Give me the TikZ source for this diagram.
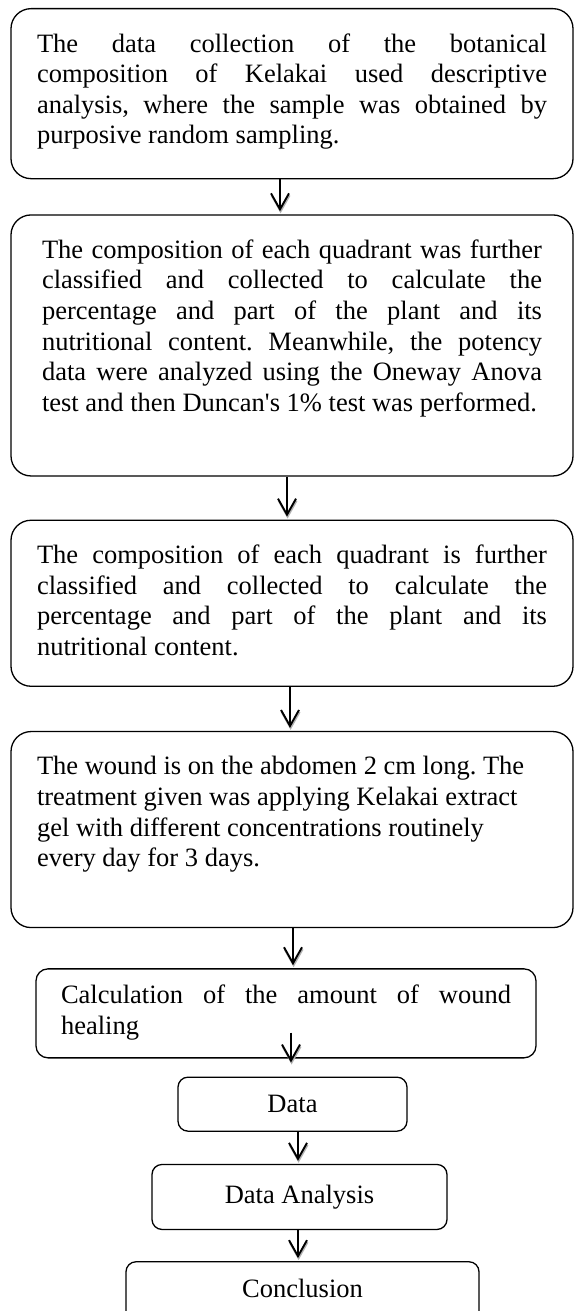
\documentclass[tikz,border=0pt]{standalone}
\usepackage{fontspec}
\setmainfont{Liberation Serif}
\usetikzlibrary{positioning,arrows.meta}
\hyphenpenalty=10000
\exhyphenpenalty=10000
\tolerance=9999
\frenchspacing
\tikzstyle{bigbox} = [rectangle, rounded corners=20pt, draw=black, line width=1.3pt, inner xsep=26pt, inner ysep=22pt, anchor=north, font=\fontsize{26.5}{30.6}\selectfont]
\tikzstyle{smallbox} = [rectangle, rounded corners=10pt, draw=black, line width=1.3pt, text centered, inner ysep=8pt, font=\fontsize{26.5}{30.6}\selectfont]
\tikzstyle{arrow} = [line width=1.3pt, -{Straight Barb[length=16pt,width=18pt,line width=1.9pt]}, shorten >=3pt, preaction={draw=gray!60, transform canvas={xshift=0.6pt,yshift=-2pt}}]

\begin{document}
\begin{tikzpicture}
    \useasboundingbox (0,0) rectangle (575pt,-1311pt);
    \clip (0,0) rectangle (575pt,-1311pt);
        \node (collect) [bigbox] at (292pt,-8pt) {\parbox[c][126pt][t]{510pt}{\strut The data collection of the botanical\linebreak composition of Kelakai used descriptive\linebreak analysis, where the sample was obtained by\linebreak purposive random sampling.}};
        \node (classify) [bigbox, below=35pt of collect, inner xsep=31pt] {\parbox[c][217pt][t]{500pt}{\strut The composition of each quadrant was further\linebreak classified and collected to calculate the\linebreak percentage and part of the plant and its\linebreak nutritional content. Meanwhile, the potency\linebreak data were analyzed using the Oneway Anova\linebreak test and then Duncan\textquotesingle s 1\% test was performed.}};
        \node (quadrant) [bigbox, below=43pt of classify] {\parbox[c][122pt][t]{510pt}{\strut The composition of each quadrant is further\linebreak classified and collected to calculate the\linebreak percentage and part of the plant and its\linebreak nutritional content.}};
        \node (wound) [bigbox, below=44pt of quadrant] {\parbox[c][152pt][t]{510pt}{\raggedright\strut The wound is on the abdomen 2 cm long. The\\ treatment given was applying Kelakai extract\\ gel with different concentrations routinely\\ every day for 3 days.}};
        \node (calc) [bigbox, below=40pt of wound, xshift=-6pt, inner xsep=25pt, inner ysep=13.5pt, rounded corners=12pt] {\parbox[c][62pt][t]{450pt}{\strut Calculation of the amount of wound\linebreak healing}};
        \node (data) [smallbox, below=18pt of calc, xshift=6.5pt, minimum width=229pt, minimum height=54pt] {Data};
        \node (analysis) [smallbox, below=32pt of data, xshift=7pt, minimum width=295pt, minimum height=65pt] {Data Analysis};
        \node (concl) [smallbox, below=31pt of analysis, xshift=3pt, minimum width=353pt, inner ysep=15pt, text height=21pt, text depth=44pt] {Conclusion};
        \draw [arrow] ([xshift=-12pt]collect.south) -- ([xshift=-12pt]classify.north);
        \draw [arrow] ([xshift=-5pt]classify.south) -- ([xshift=-5pt]quadrant.north);
        \draw [arrow] ([xshift=-2pt]quadrant.south) -- ([xshift=-2pt]wound.north);
        \draw [arrow] ([xshift=1pt]wound.south) -- ([xshift=1pt]wound.south |- calc.north);
        \draw [arrow, shorten >=14pt] ([xshift=5pt,yshift=26pt]calc.south) -- ([xshift=5pt]calc.south |- data.north);
        \draw [arrow] ([xshift=5.5pt]data.south) -- ([xshift=5.5pt]data.south |- analysis.north);
        \draw [arrow] ([xshift=-1.5pt]analysis.south) -- ([xshift=-1.5pt]analysis.south |- concl.north);
    \end{tikzpicture}
\end{document}
